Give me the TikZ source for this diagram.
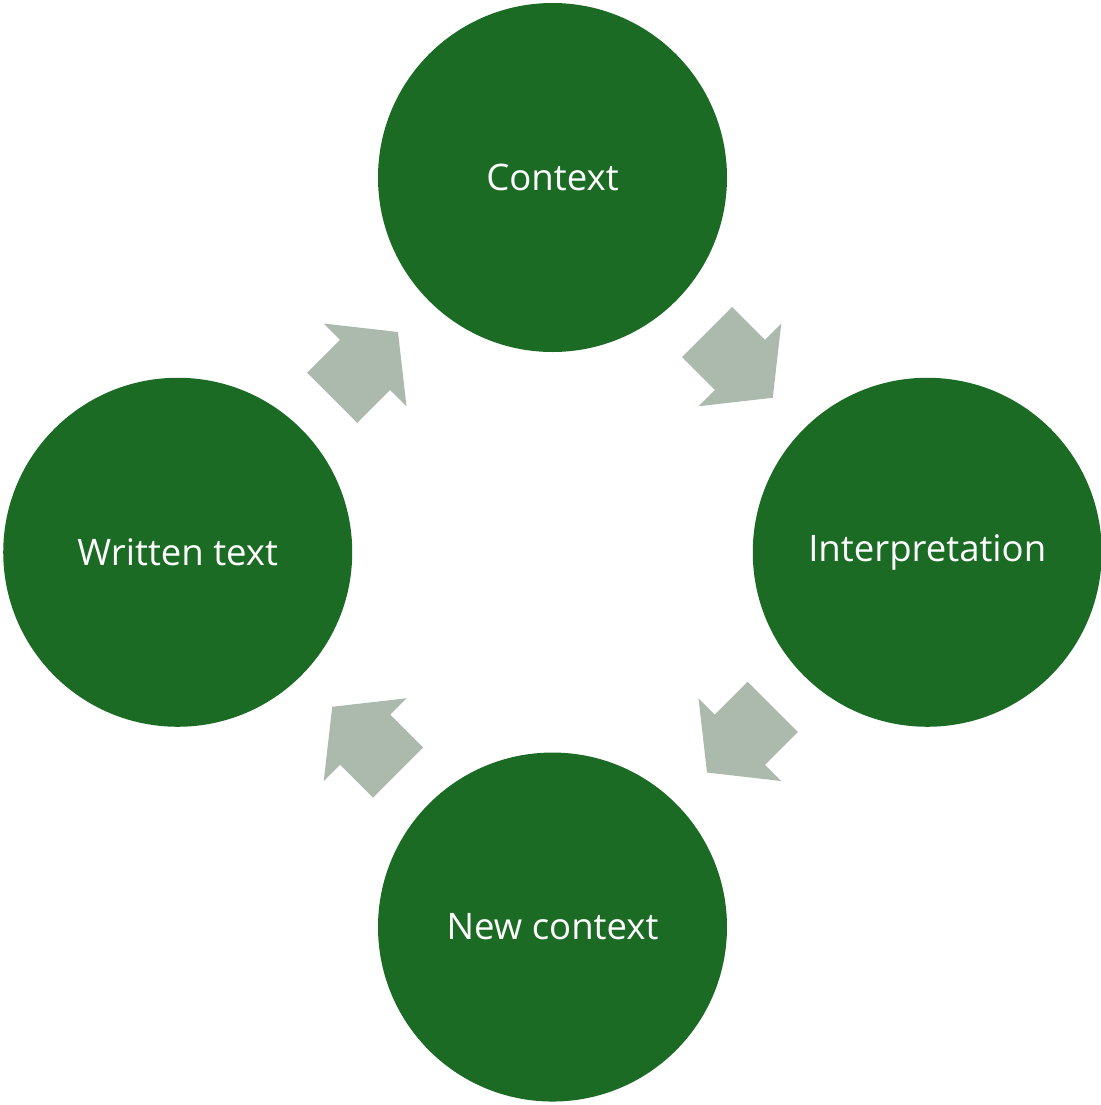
\documentclass[tikz,border=0pt]{standalone}
\usepackage{fontspec}
\setmainfont{Open Sans}
\usetikzlibrary{calc}

\definecolor{leafgreen}{HTML}{1B6B25}
\definecolor{sagegray}{HTML}{ABBAAD}

\begin{document}
\begin{tikzpicture}[node distance=5.3cm,
                    every node/.style={font=\fontsize{10.4}{12}\selectfont}]
  \tikzset{stage/.style={circle,fill=leafgreen,draw=none,text=white,
                         inner sep=0pt,minimum size=3.49cm}}
  % block arrow between two stages, pointing along +x before rotation
  \tikzset{cyclearrow/.pic={
      \fill[sagegray] (-0.465,0.355) -- (0,0.355) -- (0,0.585) -- (0.465,0)
                      -- (0,-0.585) -- (0,-0.355) -- (-0.465,-0.355) -- cycle;}}

  \useasboundingbox (0,0) rectangle (11.01,-11.05);

  \node[stage] (ctx) at (5.525,-1.775)       {Context};
  \node[stage] (int) [below right of=ctx]    {Interpretation};
  \node[stage] (wri) [below left of=ctx]     {Written text};
  \node[stage] (new) [below left of=int]     {New context};

  \pic[rotate=-45]  at ($(ctx)!0.5!(int)$) {cyclearrow};
  \pic[rotate=-135] at ($(int)!0.5!(new)$) {cyclearrow};
  \pic[rotate=135]  at ($(new)!0.5!(wri)$) {cyclearrow};
  \pic[rotate=45]   at ($(wri)!0.5!(ctx)$) {cyclearrow};
\end{tikzpicture}
\end{document}
